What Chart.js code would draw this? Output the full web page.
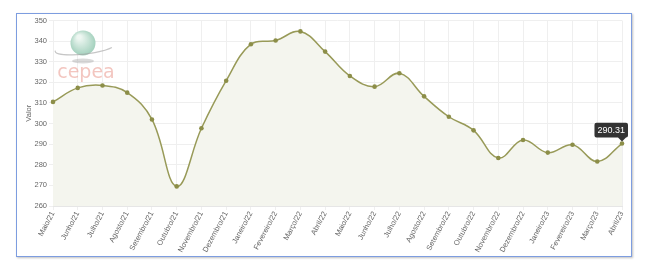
<!DOCTYPE html>
<html>
<head>
<meta charset="utf-8">
<script src="https://cdn.jsdelivr.net/npm/chart.js@4"></script>
<style>
  body { margin: 0; background: #fff; }
  #box {
    position: absolute; left: 16px; top: 13px;
    width: 614px; height: 242px;
    border: 1.5px solid #7d9de0;
    box-shadow: 1px 1px 2px rgba(0,0,0,0.25);
    background: #fff;
  }
  #box canvas { position: absolute; left: 0; top: 0; }
</style>
</head>
<body>
<div id="box"><canvas id="myLineChart" width="614" height="242"></canvas></div>
<script>
const months = [
    'Maio/21', 'Junho/21', 'Julho/21', 'Agosto/21', 'Setembro/21', 'Outubro/21',
    'Novembro/21', 'Dezembro/21', 'Janeiro/22', 'Fevereiro/22', 'Março/22', 'Abril/22',
    'Maio/22', 'Junho/22', 'Julho/22', 'Agosto/22', 'Setembro/22', 'Outubro/22',
    'Novembro/22', 'Dezembro/22', 'Janeiro/23', 'Fevereiro/23', 'Março/23', 'Abril/23'
];
const valores = [
    310.5, 317.3, 318.5, 315.0, 302.0, 269.5,
    297.7, 320.8, 338.5, 340.3, 344.7, 334.9,
    323.1, 317.9, 324.4, 313.2, 303.3, 296.7,
    283.3, 292.0, 285.9, 289.7, 281.6, 290.31
];
const yTicks = [260, 270, 280, 290, 300, 310, 320, 330, 340, 350];

// faint cepea watermark behind the line
const logoPlugin = {
    id: 'logo',
    beforeDatasetsDraw(chart) {
        const c = chart.ctx;
        c.save();
        // shadow under the globe
        c.fillStyle = 'rgba(150,150,150,0.35)';
        c.beginPath();
        c.ellipse(66, 47, 11, 2.5, 0, 0, Math.PI * 2);
        c.fill();
        // globe
        const g = c.createRadialGradient(62, 23, 2, 66, 29, 14);
        g.addColorStop(0, '#eef7f2');
        g.addColorStop(1, '#9ccdb8');
        c.fillStyle = g;
        c.beginPath();
        c.arc(66, 29, 12.5, 0, Math.PI * 2);
        c.fill();
        // ring
        c.strokeStyle = 'rgba(160,160,160,0.6)';
        c.lineWidth = 1.2;
        c.beginPath();
        c.ellipse(68, 34, 30, 6, -0.12, 0.15 * Math.PI, 1.05 * Math.PI);
        c.stroke();
        // brand text
        c.fillStyle = 'rgba(235,160,150,0.6)';
        c.font = '19px "DejaVu Sans", sans-serif';
        c.textAlign = 'center';
        c.textBaseline = 'middle';
        c.fillText('cepea', 69, 59);
        c.restore();
    }
};

const ctx = document.getElementById('myLineChart').getContext('2d');
const myChart = new Chart(ctx, {
    type: 'line',
    data: {
        labels: months,
        datasets: [{
            label: 'Valor',
            data: valores,
            borderColor: '#989a58',
            borderWidth: 1.5,
            backgroundColor: '#f4f5ee',
            fill: 'start',
            tension: 0.4,
            pointRadius: 2.3,
            pointBackgroundColor: '#8c8e48',
            pointBorderColor: '#8c8e48',
            pointBorderWidth: 0
        }]
    },
    plugins: [logoPlugin],
    options: {
        responsive: false,
        animation: false,
        events: [],
        layout: { padding: { top: 6, right: 9, left: 7, bottom: 0 } },
        plugins: {
            legend: { display: false },
            tooltip: {
                enabled: true,
                backgroundColor: '#333',
                titleFont: { size: 1 },
                bodyFont: { family: '"Liberation Sans", Arial, sans-serif', size: 9 },
                bodyColor: '#fff',
                padding: { top: 2, bottom: 2, left: 3, right: 3 },
                cornerRadius: 2,
                caretSize: 4,
                caretPadding: 2,
                displayColors: false,
                xAlign: 'right',
                yAlign: 'bottom',
                callbacks: {
                    title: () => '',
                    label: (item) => item.raw.toFixed(2)
                }
            }
        },
        scales: {
            x: {
                grid: { color: '#efefef', tickLength: 4 },
                border: { color: '#e6e6e6' },
                ticks: {
                    color: '#666',
                    font: { family: '"Liberation Sans", Arial, sans-serif', size: 7.5 },
                    minRotation: 62,
                    maxRotation: 62,
                    autoSkip: false,
                    padding: 0
                },
                afterFit: (scale) => { scale.height = 50; }
            },
            y: {
                min: 260,
                max: 350,
                afterBuildTicks: (scale) => { scale.ticks = yTicks.map(v => ({ value: v })); },
                grid: { color: '#efefef', tickLength: 4 },
                border: { display: false },
                ticks: {
                    color: '#666',
                    font: { family: '"Liberation Sans", Arial, sans-serif', size: 7.5 },
                    padding: 2
                },
                title: {
                    display: true,
                    text: 'Valor',
                    color: '#666',
                    font: { family: '"Liberation Sans", Arial, sans-serif', size: 7.5 },
                    padding: 0
                },
                afterFit: (scale) => { scale.width = 29; }
            }
        }
    }
});

const last = valores.length - 1;
const pt = myChart.getDatasetMeta(0).data[last];
myChart.tooltip.setActiveElements([{ datasetIndex: 0, index: last }], { x: pt.x, y: pt.y });
myChart.update();
</script>
</body>
</html>
